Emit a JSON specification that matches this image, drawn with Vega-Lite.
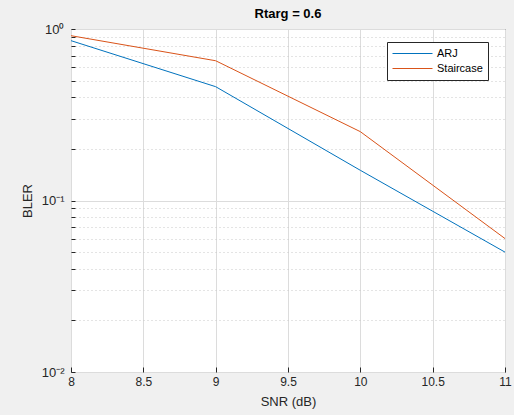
{
  "$schema": "https://vega.github.io/schema/vega-lite/v6.json",
  "width": 434,
  "height": 343,
  "autosize": {"type": "none"},
  "padding": {"left": 71, "top": 29, "right": 9, "bottom": 43},
  "background": "#f0f0f0",
  "title": {"text": "Rtarg = 0.6", "font": "Liberation Sans", "fontSize": 13, "fontWeight": "bold", "color": "#000000", "offset": 2, "frame": "group"},
  "config": {
    "view": {"fill": "white", "stroke": "#262626", "strokeWidth": 1},
    "font": "Liberation Sans"
  },
  "data": {
    "values": [
      {"snr": 8, "bler": 0.855, "series": "ARJ"},
      {"snr": 9, "bler": 0.461, "series": "ARJ"},
      {"snr": 10, "bler": 0.15, "series": "ARJ"},
      {"snr": 11, "bler": 0.05, "series": "ARJ"},
      {"snr": 8, "bler": 0.914, "series": "Staircase"},
      {"snr": 9, "bler": 0.653, "series": "Staircase"},
      {"snr": 10, "bler": 0.252, "series": "Staircase"},
      {"snr": 11, "bler": 0.06, "series": "Staircase"}
    ]
  },
  "mark": {"type": "line", "strokeWidth": 1, "clip": true},
  "encoding": {
    "x": {
      "field": "snr", "type": "quantitative",
      "scale": {"domain": [8, 11], "nice": false, "zero": false},
      "axis": {
        "title": "SNR (dB)", "titleFont": "Liberation Sans", "titleFontSize": 13, "titleFontWeight": "normal", "titleColor": "#262626", "titlePadding": 8,
        "values": [8, 8.5, 9, 9.5, 10, 10.5, 11], "format": "~g",
        "labelFontSize": 12, "labelColor": "#262626", "labelPadding": 9, "labelFlush": false, "labelOverlap": false,
        "domain": false, "tickSize": -5, "tickColor": "#262626",
        "grid": true, "gridColor": "#dcdcdc", "gridWidth": 1
      }
    },
    "y": {
      "field": "bler", "type": "quantitative",
      "scale": {"type": "log", "domain": [0.01, 1], "nice": false},
      "axis": {
        "title": "BLER", "titleFont": "Liberation Sans", "titleFontSize": 13, "titleFontWeight": "normal", "titleColor": "#262626", "titlePadding": 7,
        "values": [0.01, 0.02, 0.03, 0.04, 0.05, 0.06, 0.07, 0.08, 0.09, 0.1, 0.2, 0.3, 0.4, 0.5, 0.6, 0.7, 0.8, 0.9, 1],
        "labelExpr": "datum.value == 1 ? '10⁰' : datum.value == 0.1 ? '10⁻¹' : datum.value == 0.01 ? '10⁻²' : ''",
        "labelFontSize": 13, "labelColor": "#262626", "labelPadding": 11, "labelFlush": false, "labelOverlap": false,
        "labelBaseline": "alphabetic", "labelOffset": 4,
        "domain": false, "tickColor": "#262626",
        "tickSize": -4,
        "grid": true,
        "gridColor": {"condition": {"test": "datum.value == 1 || datum.value == 0.1 || datum.value == 0.01", "value": "#dcdcdc"}, "value": "#c8c8c8"},
        "gridDash": {"condition": {"test": "datum.value == 1 || datum.value == 0.1 || datum.value == 0.01", "value": []}, "value": [1, 3]},
        "gridWidth": 1
      }
    },
    "color": {
      "field": "series", "type": "nominal",
      "scale": {"domain": ["ARJ", "Staircase"], "range": ["#0072BD", "#D95319"]},
      "legend": {
        "title": null, "orient": "none", "legendX": 316, "legendY": 13,
        "symbolType": "stroke", "symbolSize": 1600, "symbolStrokeWidth": 1, "clipHeight": 13,
        "labelFontSize": 11, "labelColor": "#000000", "labelFont": "Liberation Sans",
        "fillColor": "white", "strokeColor": "#262626", "padding": 5, "rowPadding": 2,
        "labelOffset": 4
      }
    }
  }
}
